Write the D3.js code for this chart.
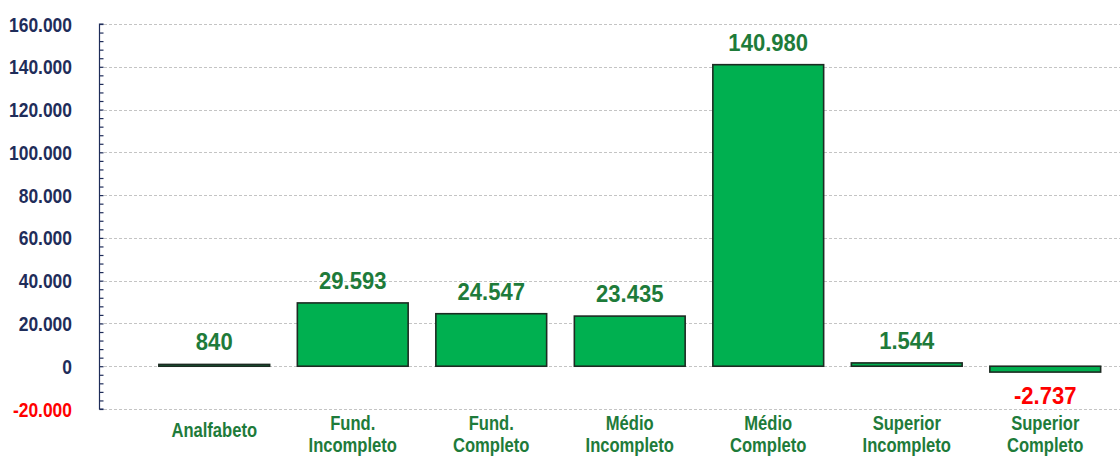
<!DOCTYPE html>
<html>
<head>
<meta charset="utf-8">
<script src="https://cdn.jsdelivr.net/npm/d3@7"></script>
<style>
  html, body { margin: 0; padding: 0; background: #fff; }
  svg { display: block; }
</style>
</head>
<body>
<svg id="chart" width="1120" height="460"></svg>
<script>
// input data
const categories = [
  ['Analfabeto'],
  ['Fund.', 'Incompleto'],
  ['Fund.', 'Completo'],
  ['Médio', 'Incompleto'],
  ['Médio', 'Completo'],
  ['Superior', 'Incompleto'],
  ['Superior', 'Completo'],
];
const values = [840, 29593, 24547, 23435, 140980, 1544, -2737];
const yTicks = [-20000, 0, 20000, 40000, 60000, 80000, 100000, 120000, 140000, 160000];
const title = 'Janeiro a Setembro de 2020';

const width = 1120;

const svg = d3.select('#chart');

// pt-BR number format: dot as thousands separator, plain hyphen for negatives
const locale = d3.formatLocale({
  decimal: ',',
  thousands: '.',
  grouping: [3],
  currency: ['R$', ''],
  minus: '-',
});
const fmt = locale.format(',d');

const y = d3.scaleLinear().domain([-20000, 160000]).range([409, 24]);
const x = d3
  .scaleBand()
  .domain(d3.range(values.length))
  .range([145, 1114.5])
  .paddingInner(0.2)
  .paddingOuter(0.1);

const axisX = 99;
const font = 'Liberation Sans, Arial, sans-serif';
// no narrow face installed: squeeze the bold face horizontally
const narrow = 0.83;

// title, almost entirely cut off at the top
svg
  .append('text')
  .attr('x', 606)
  .attr('y', -1)
  .attr('text-anchor', 'middle')
  .attr('font-family', font)
  .attr('font-weight', 'bold')
  .attr('font-size', 26)
  .attr('fill', '#f27070')
  .text(title);

// dashed gridlines
svg
  .append('g')
  .selectAll('line')
  .data(yTicks)
  .join('line')
  .attr('x1', axisX)
  .attr('x2', width)
  .attr('y1', d => Math.round(y(d)) + 0.5)
  .attr('y2', d => Math.round(y(d)) + 0.5)
  .attr('stroke', '#c4c4c4')
  .attr('stroke-width', 1)
  .attr('stroke-dasharray', '3 2');

// y axis: minor ticks every 4.000 pointing inward
const axis = d3
  .axisRight(y)
  .tickValues(d3.range(-20000, 160001, 4000))
  .tickSize(4)
  .tickFormat('');

const gAxis = svg
  .append('g')
  .attr('transform', `translate(${axisX + 0.5} 0)`)
  .call(axis);
gAxis.selectAll('path, line').attr('stroke', '#1f2d5a').attr('stroke-width', 1.2);
gAxis.select('.domain').attr('d', `M4,${y(160000)}H0V${y(-20000)}H4`);

svg
  .append('g')
  .selectAll('text')
  .data(yTicks)
  .join('text')
  .attr('transform', d => `translate(72 ${y(d)}) scale(${narrow} 1)`)
  .attr('dy', '0.36em')
  .attr('text-anchor', 'end')
  .attr('font-family', font)
  .attr('font-weight', 'bold')
  .attr('font-size', 21)
  .attr('fill', d => (d < 0 ? '#ff0000' : '#1f2d5a'))
  .text(d => fmt(d));

// bars
svg
  .append('g')
  .selectAll('rect')
  .data(values)
  .join('rect')
  .attr('x', (d, i) => x(i))
  .attr('width', x.bandwidth())
  .attr('y', d => y(Math.max(0, d)))
  .attr('height', d => Math.abs(y(d) - y(0)))
  .attr('fill', '#00b050')
  .attr('stroke', '#1c2b22')
  .attr('stroke-width', 1.6);

// value labels
svg
  .append('g')
  .selectAll('text')
  .data(values)
  .join('text')
  .attr('transform', (d, i) => {
    const cx = x(i) + x.bandwidth() / 2;
    const cy = d >= 0 ? y(d) - 14 : y(d) + 32;
    return `translate(${cx} ${cy}) scale(0.92 1)`;
  })
  .attr('text-anchor', 'middle')
  .attr('font-family', font)
  .attr('font-weight', 'bold')
  .attr('font-size', 24)
  .attr('fill', d => (d < 0 ? '#ff0000' : '#1e7b3a'))
  .text(d => fmt(d));

// category labels, one or two lines
const cat = svg
  .append('g')
  .selectAll('text')
  .data(categories)
  .join('text')
  .attr('text-anchor', 'middle')
  .attr('font-family', font)
  .attr('font-weight', 'bold')
  .attr('font-size', 20)
  .attr('fill', '#1e7b3a')
  .attr('transform', (d, i) => {
    const cx = x(i) + x.bandwidth() / 2;
    return `translate(${cx} ${d.length > 1 ? 430 : 437}) scale(${narrow} 1)`;
  });

cat
  .selectAll('tspan')
  .data(d => d)
  .join('tspan')
  .attr('x', 0)
  .attr('dy', (d, i) => (i === 0 ? 0 : 22))
  .text(d => d);
</script>
</body>
</html>
